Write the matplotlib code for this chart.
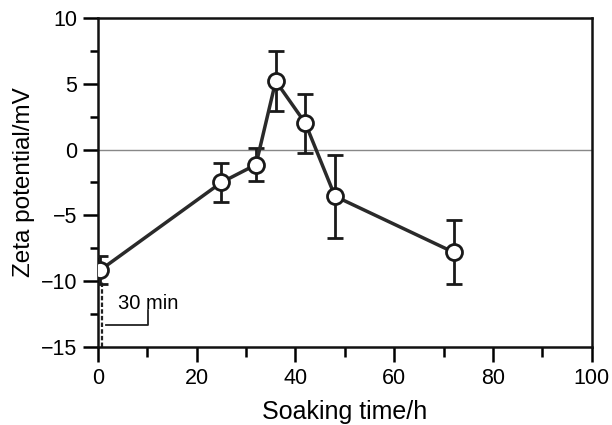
import matplotlib
matplotlib.use("Agg")
import matplotlib.pyplot as plt
from matplotlib.ticker import MultipleLocator

plt.rcParams['font.family'] = ['Liberation Sans', 'DejaVu Sans']

time_h = [0.5, 25, 32, 36, 42, 48, 72]
zeta_mv = [-9.15, -2.5, -1.15, 5.2, 2.0, -3.55, -7.8]
err_mv = [1.1, 1.5, 1.25, 2.25, 2.25, 3.15, 2.45]

fig = plt.figure(figsize=(6.12, 4.25), dpi=100)
ax = fig.add_axes([0.160, 0.1835, 0.807, 0.7745])

ax.axhline(0, color='#888888', lw=1.0, zorder=1)

# 30 min dashed marker
ax.plot([0.8, 0.8], [-15, -10], ls=(0, (2, 1)), color='#222222', lw=1.6, zorder=2)

ax.errorbar(time_h, zeta_mv, yerr=err_mv, fmt='none', ecolor='#1a1a1a',
            elinewidth=2.0, capsize=6, capthick=2.0, zorder=3)
ax.plot(time_h, zeta_mv, '-', color='#2a2a2a', lw=2.5, zorder=4)
ax.plot(time_h, zeta_mv, 'o', ms=11.5, mfc='white', mec='#1a1a1a', mew=2.0, zorder=5)

# annotation leader
ax.plot([1.6, 10.1, 10.1], [-13.3, -13.3, -12.2], color='#222222', lw=1.3, zorder=2)
ax.text(4.0, -12.1, '30 min', fontsize=14.5, ha='left', va='baseline')

ax.set_xlim(0, 100)
ax.set_ylim(-15, 10)
ax.xaxis.set_minor_locator(MultipleLocator(10))
ax.yaxis.set_minor_locator(MultipleLocator(2.5))
ax.tick_params(which='both', direction='out', width=1.8, top=False, right=False)
ax.tick_params(which='major', length=11, labelsize=15.5, pad=4)
ax.tick_params(axis='x', which='minor', length=7)
ax.tick_params(axis='y', which='minor', length=6)
ax.set_xticks([0, 20, 40, 60, 80, 100])
ax.set_xticklabels(['0', '20', '40', '60', '80', '100'])
ax.set_yticks([-15, -10, -5, 0, 5, 10])
ax.set_yticklabels(['\u221215', '\u221210', '\u22125', '0', '5', '10'])
for s in ax.spines.values():
    s.set_linewidth(1.8)
    s.set_color('#111111')

ax.set_xlabel('Soaking time/h', fontsize=18, labelpad=8)
ax.set_ylabel('Zeta potential/mV', fontsize=17.5, labelpad=4)

fig.savefig('out.png', dpi=100)
